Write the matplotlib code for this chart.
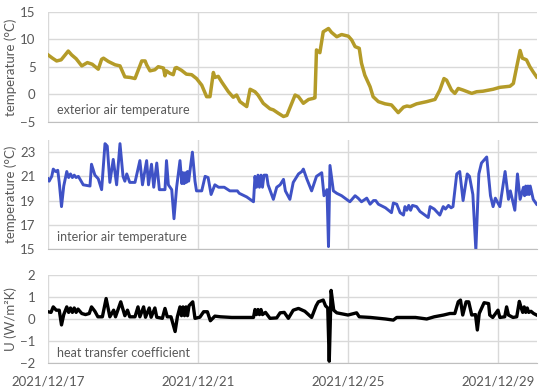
import matplotlib
matplotlib.use("Agg")
import matplotlib.pyplot as plt
import matplotlib.dates as mdates
import numpy as np

plt.rcParams['font.family'] = ['Lato', 'DejaVu Sans']

# time in days since 2021-12-17 00:00
ext_days = [0.00, 0.12, 0.23, 0.35, 0.47, 0.54, 0.63, 0.75, 0.90, 1.05, 1.18, 1.34, 1.43, 1.48,
            1.61, 1.79, 1.92, 2.05, 2.19, 2.32, 2.41, 2.50, 2.59, 2.63, 2.72, 2.85, 2.94, 3.03,
            3.08, 3.12, 3.16, 3.25, 3.34, 3.39, 3.43, 3.56, 3.69, 3.83, 3.96, 4.10, 4.23, 4.32,
            4.41, 4.45, 4.54, 4.63, 4.81, 4.94, 5.03, 5.12, 5.30, 5.39, 5.52, 5.60, 5.74, 5.92,
            6.01, 6.14, 6.28, 6.37, 6.59, 6.68, 6.81, 6.95, 7.08, 7.12, 7.16, 7.25, 7.34, 7.48,
            7.56, 7.70, 7.83, 8.01, 8.10, 8.19, 8.30, 8.36, 8.45, 8.59, 8.67, 8.81, 8.99, 9.16,
            9.34, 9.48, 9.57, 9.66, 9.83, 10.10, 10.32, 10.45, 10.56, 10.63, 10.76, 10.85, 10.94,
            11.07, 11.30, 11.43, 11.60, 11.87, 12.05, 12.32, 12.41, 12.50, 12.59, 12.65, 12.76,
            12.85, 12.94, 13.03]
ext_temp = [7.2, 6.6, 6.1, 6.3, 7.3, 7.9, 7.2, 6.5, 5.2, 5.8, 5.5, 4.6, 6.4, 6.6,
            6.0, 5.4, 5.2, 3.2, 3.1, 2.9, 4.5, 6.1, 6.1, 5.4, 4.3, 4.5, 5.05, 4.9,
            4.8, 3.4, 4.3, 3.85, 3.6, 4.8, 4.9, 4.4, 3.7, 3.6, 2.9, 1.7, -0.4, -0.4,
            4.0, 3.1, 3.3, 2.3, 0.5, -0.5, -0.1, -1.3, -2.2, 0.95, 0.5, -0.1, -1.6, -2.6,
            -2.8, -3.4, -4.0, -3.8, -0.1, -0.4, -1.6, -0.9, -0.7, -0.6, 8.1, 7.6, 11.4, 12.0,
            11.3, 10.5, 10.9, 10.6, 9.9, 8.7, 8.4, 5.7, 3.5, 1.4, -0.4, -1.3, -1.7, -1.9,
            -3.3, -2.3, -2.1, -2.2, -1.7, -1.3, -0.9, 0.8, 2.9, 2.6, 0.8, 0.2, 1.1,
            0.8, 0.2, 0.5, 0.6, 0.95, 1.3, 1.5, 2.0, 5.05, 8.0, 6.6, 6.3,
            5.05, 4.1, 3.2]

int_days = [0.00, 0.03, 0.10, 0.14, 0.20, 0.26, 0.30, 0.36, 0.42, 0.50, 0.55, 0.60, 0.65, 0.70,
            0.75, 0.81, 0.94, 1.12, 1.16, 1.25, 1.34, 1.43, 1.52, 1.58, 1.65, 1.74, 1.83, 1.92,
            2.00, 2.05, 2.10, 2.18, 2.32, 2.45, 2.52, 2.63, 2.68, 2.76, 2.82, 2.90, 2.97, 3.12,
            3.16, 3.21, 3.30, 3.36, 3.43, 3.52, 3.57, 3.60, 3.63, 3.66, 3.69, 3.72, 3.75, 3.80,
            3.85, 3.92, 3.96, 4.10, 4.19, 4.27, 4.35, 4.45, 4.55, 4.70, 4.85, 5.05, 5.10, 5.30,
            5.48, 5.52, 5.56, 5.60, 5.64, 5.68, 5.72, 5.76, 5.83, 5.87, 6.01, 6.10, 6.19, 6.28,
            6.33, 6.45, 6.54, 6.68, 6.77, 6.81, 6.90, 7.03, 7.16, 7.30, 7.36, 7.44, 7.48, 7.52,
            7.61, 7.70, 7.83, 8.05, 8.19, 8.27, 8.36, 8.50, 8.59, 8.68, 8.74, 8.81, 9.00, 9.16,
            9.21, 9.30, 9.39, 9.48, 9.52, 9.57, 9.62, 9.67, 9.72, 9.83, 9.92, 10.14, 10.19, 10.30,
            10.45, 10.54, 10.60, 10.68, 10.75, 10.80, 10.90, 10.98, 11.07, 11.18, 11.24, 11.33,
            11.41, 11.49, 11.56, 11.70, 11.80, 11.87, 11.93, 12.05, 12.19, 12.28, 12.33, 12.45,
            12.52, 12.59, 12.68, 12.71, 12.74, 12.77, 12.80, 12.83, 12.86, 12.94, 13.03]
int_temp = [20.8, 20.6, 21.0, 21.6, 21.4, 21.5, 20.5, 18.5, 20.2, 21.4, 20.9, 21.2, 20.9, 21.1,
            20.9, 21.0, 20.3, 20.2, 22.0, 21.1, 20.8, 19.9, 23.7, 23.5, 20.5, 22.4, 20.3, 23.7,
            21.0, 20.6, 21.2, 20.5, 20.5, 22.3, 20.3, 22.3, 20.3, 22.0, 20.1, 22.1, 19.9, 19.9,
            22.3, 20.3, 19.9, 17.5, 20.1, 22.3, 20.4, 21.3, 20.4, 21.3, 20.5, 21.4, 20.6, 21.8,
            23.0, 20.6, 19.8, 19.8, 21.0, 20.9, 19.5, 20.3, 20.1, 20.1, 19.8, 19.8, 19.6, 19.3,
            18.9, 21.0, 20.1, 21.1, 20.1, 21.1, 20.1, 21.1, 21.1, 20.3, 19.1, 20.1, 20.3, 20.75,
            19.8, 19.1, 20.5, 21.2, 21.4, 21.6, 20.8, 19.8, 21.0, 21.3, 19.4, 19.9, 15.2, 21.9,
            19.8, 19.6, 19.4, 18.9, 19.4, 19.2, 18.9, 19.2, 18.7, 19.0, 19.0, 18.7, 18.4, 18.0,
            18.8, 18.7, 18.0, 17.8, 18.5, 18.2, 18.6, 18.2, 18.6, 18.5, 18.1, 17.6, 18.5, 18.3,
            17.8, 18.5, 18.3, 18.6, 18.4, 18.5, 21.2, 21.4, 19.0, 21.2, 21.0, 19.5,
            14.9, 21.2, 22.1, 22.6, 19.4, 18.5, 19.2, 18.5, 21.4, 19.1, 19.8, 18.2,
            21.2, 19.1, 20.1, 19.4, 20.2, 19.5, 20.2, 19.5, 20.2, 19.1, 18.7]

u_days = [0.00, 0.08, 0.14, 0.22, 0.30, 0.36, 0.42, 0.50, 0.55, 0.60, 0.65, 0.70, 0.75, 0.80,
          0.90, 1.00, 1.10, 1.16, 1.25, 1.33, 1.45, 1.55, 1.65, 1.75, 1.80, 1.94, 2.05, 2.12,
          2.18, 2.32, 2.40, 2.45, 2.55, 2.60, 2.70, 2.75, 2.85, 2.90, 3.05, 3.12, 3.18, 3.28,
          3.39, 3.45, 3.52, 3.56, 3.60, 3.64, 3.68, 3.72, 3.76, 3.86, 3.92, 4.05, 4.15, 4.25,
          4.33, 4.45, 4.60, 4.90, 5.30, 5.48, 5.52, 5.56, 5.60, 5.64, 5.68, 5.72, 5.80, 5.92,
          6.10, 6.19, 6.30, 6.41, 6.54, 6.68, 6.85, 7.03, 7.15, 7.21, 7.34, 7.40, 7.46, 7.50,
          7.55, 7.62, 7.70, 8.00, 8.23, 8.30, 8.60, 9.00, 9.21, 9.30, 9.80, 10.10, 10.30, 10.55,
          10.72, 10.85, 10.94, 11.00, 11.06, 11.15, 11.22, 11.30, 11.40, 11.45, 11.50, 11.63,
          11.75, 11.78, 11.86, 12.00, 12.05, 12.18, 12.23, 12.28, 12.40, 12.50, 12.57, 12.62,
          12.66, 12.70, 12.74, 12.78, 12.82, 12.88, 12.95, 13.03]
u_value = [0.33, 0.30, 0.55, 0.40, 0.40, -0.27, 0.20, 0.55, 0.30, 0.50, 0.30, 0.50, 0.30, 0.45,
           0.25, 0.20, 0.25, 0.55, 0.35, 0.10, 0.10, 0.93, 0.10, 0.40, 0.10, 0.78, 0.15, 0.40,
           0.10, 0.10, 0.55, 0.10, 0.55, 0.08, 0.50, 0.08, 0.50, 0.08, 0.03, 0.48, 0.10, 0.10,
           -0.57, 0.10, 0.55, 0.15, 0.55, 0.15, 0.55, 0.15, 0.60, 0.78, 0.03, 0.08, 0.33, 0.33,
           -0.08, 0.13, 0.10, 0.07, 0.07, 0.07, 0.43, 0.20, 0.43, 0.20, 0.43, 0.20, 0.30, 0.03,
           0.05, 0.28, 0.30, 0.03, 0.40, 0.48, 0.35, 0.07, 0.60, 0.78, 0.86, 0.60, 0.50, -1.92,
           1.30, 0.40, 0.28, 0.18, 0.28, 0.10, 0.07, 0.00, -0.05, 0.07, 0.07, 0.00, 0.10, 0.18,
           0.25, 0.25, 0.78, 0.86, 0.18, 0.78, 0.78, 0.18, 0.20, -0.50, 0.25, 0.74,
           0.70, 0.18, 0.07, 0.40, 0.07, 0.10, 0.55, 0.18, 0.07, 0.10, 0.80, 0.50,
           0.30, 0.55, 0.30, 0.50, 0.30, 0.35, 0.25, 0.18]

date_ticks = ['2021-12-17', '2021-12-21', '2021-12-25', '2021-12-29']

start = np.datetime64('2021-12-17T00:00')


def to_time(days):
    return start + (np.array(days) * 24 * 60).astype('timedelta64[m]')


txt_col = '#595959'
grid_col = '#D9D9D9'
fs = 9.0

fig = plt.figure(figsize=(5.5, 3.92), dpi=100)
ax1 = fig.add_axes([0.0873, 0.6888, 0.889, 0.2806])
ax2 = fig.add_axes([0.0873, 0.3648, 0.889, 0.2780])
ax3 = fig.add_axes([0.0873, 0.0740, 0.889, 0.2245])

ax1.plot(to_time(ext_days), ext_temp, color='#B49B28', lw=2.5)
ax2.plot(to_time(int_days), int_temp, color='#3F52C6', lw=2.1)
ax3.plot(to_time(u_days), u_value, color='black', lw=2.4)

ax1.set_ylim(-5, 15)
ax1.set_yticks([-5, 0, 5, 10, 15])
ax2.set_ylim(15, 24)
ax2.set_yticks([15, 17, 19, 21, 23])
ax3.set_ylim(-2, 2)
ax3.set_yticks([-2, -1, 0, 1, 2])

ax1.set_ylabel('temperature (°C)')
ax2.set_ylabel('temperature (°C)')
ax3.set_ylabel('U (W/m²K)')

labels = ['exterior air temperature', 'interior air temperature', 'heat transfer coefficient']
xmin = start
xmax = start + np.timedelta64(int(13.04 * 24 * 60), 'm')
for ax, lab in zip([ax1, ax2, ax3], labels):
    ax.set_xlim(xmin, xmax)
    ax.set_xticks([np.datetime64(d) for d in date_ticks])
    ax.xaxis.set_major_formatter(mdates.DateFormatter('%Y/%m/%d'))
    ax.grid(True, color=grid_col, lw=1.0)
    ax.set_axisbelow(True)
    for s in ['top', 'right', 'left']:
        ax.spines[s].set_visible(False)
    ax.spines['bottom'].set_color('#BFBFBF')
    ax.tick_params(length=0, labelsize=fs + 0.5, colors=txt_col, pad=9)
    ax.yaxis.label.set_size(fs + 0.5)
    ax.yaxis.label.set_color(txt_col)
    ax.yaxis.set_label_coords(-0.063, 0.5)
    ax.text(0.018, 0.11, lab, transform=ax.transAxes, fontsize=fs, color=txt_col,
            va='center', ha='left')

ax1.tick_params(axis='x', labelbottom=False)
ax2.tick_params(axis='x', labelbottom=False)
ax3.tick_params(axis='x', pad=9)

fig.savefig('out.png', dpi=100)
